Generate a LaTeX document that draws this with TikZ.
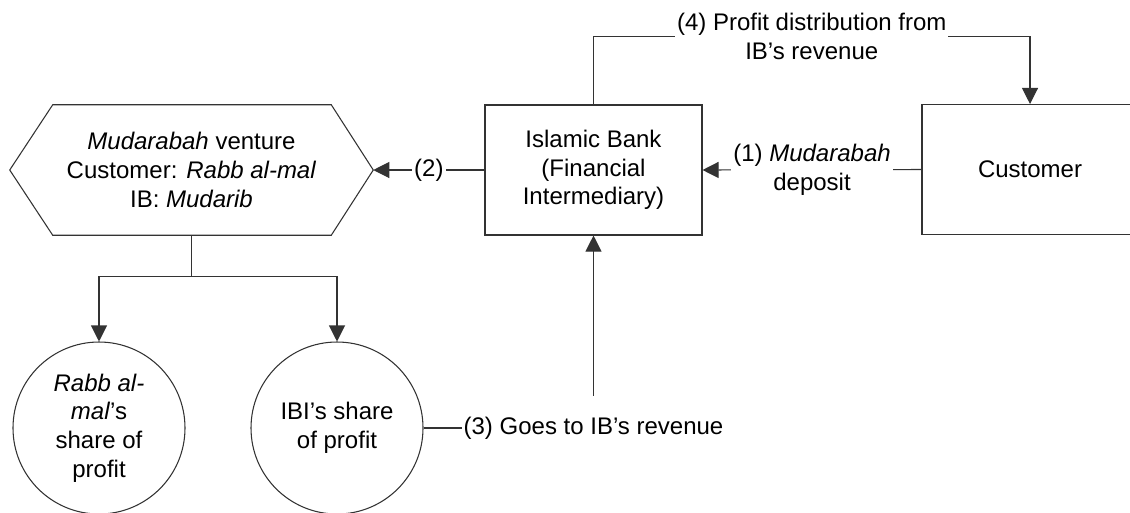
\documentclass[tikz,border=0pt]{standalone}
\usepackage{fontspec}
\setmainfont{Liberation Sans}
\usetikzlibrary{arrows.meta}
\begin{document}
\begin{tikzpicture}[x=0.75pt,y=-0.75pt,
  every node/.style={font=\fontsize{18}{21.5}\selectfont, align=center, text=black},
  ln/.style={draw=black!80, line width=0.8pt},
  arr/.style={ln, -{Triangle[length=12pt,width=12pt]}},
  box/.style={ln, minimum width=162.75pt, minimum height=97.5pt, inner sep=0pt},
  hexbox/.style={minimum width=272.25pt, minimum height=97.5pt, inner sep=0pt},
  circ/.style={ln, circle, minimum size=129pt, inner sep=0pt},
  lbl/.style={fill=white, inner xsep=1.5pt, inner ysep=1pt}]
\useasboundingbox (0,0) rectangle (1130,512);
\clip (0,0) rectangle (1130,512);
% nodes
\node[hexbox] (hex) at (191.5,170) {\textit{Mudarabah} venture\\Customer: \textit{Rabb al-mal}\\IB: \textit{Mudarib}};
\draw[ln] (hex.west) -- ([xshift=32.25pt]hex.north west) -- ([xshift=-31.5pt]hex.north east)
  -- (hex.east) -- ([xshift=-31.5pt]hex.south east) -- ([xshift=32.25pt]hex.south west) -- cycle;
\node[box] (bank) at (593.5,170) {Islamic Bank\\(Financial\\Intermediary)};
\node[box, minimum width=162pt] (cust) at (1030,169.5) {Customer};
\node[circ] (c1) at (99,428) {\textit{Rabb al-}\\\textit{mal}'s\\share of\\profit};
\node[circ] (c2) at (337,428) {IBI's share\\of profit};
% connectors
\draw[arr] (bank.west) -- node[lbl]{(2)} (hex.east);
\draw[arr] (cust.west) -- node[lbl]{(1) \textit{Mudarabah}\\deposit} (bank.east);
\draw[arr] (bank.north) -- ++(0,-68) coordinate (t4) -| node[pos=0.25, lbl]{(4) Profit distribution from\\IB's revenue} (cust.north);
\draw[arr] (c2.east) -| node[pos=0.5, fill=white, inner xsep=1pt, inner ysep=16pt]{(3) Goes to IB's revenue} (bank.south);
\draw[ln] (hex.south) -- ++(0,41) coordinate (split);
\draw[arr] (split) -| (c1.north);
\draw[arr] (split) -| (c2.north);
\end{tikzpicture}
\end{document}
